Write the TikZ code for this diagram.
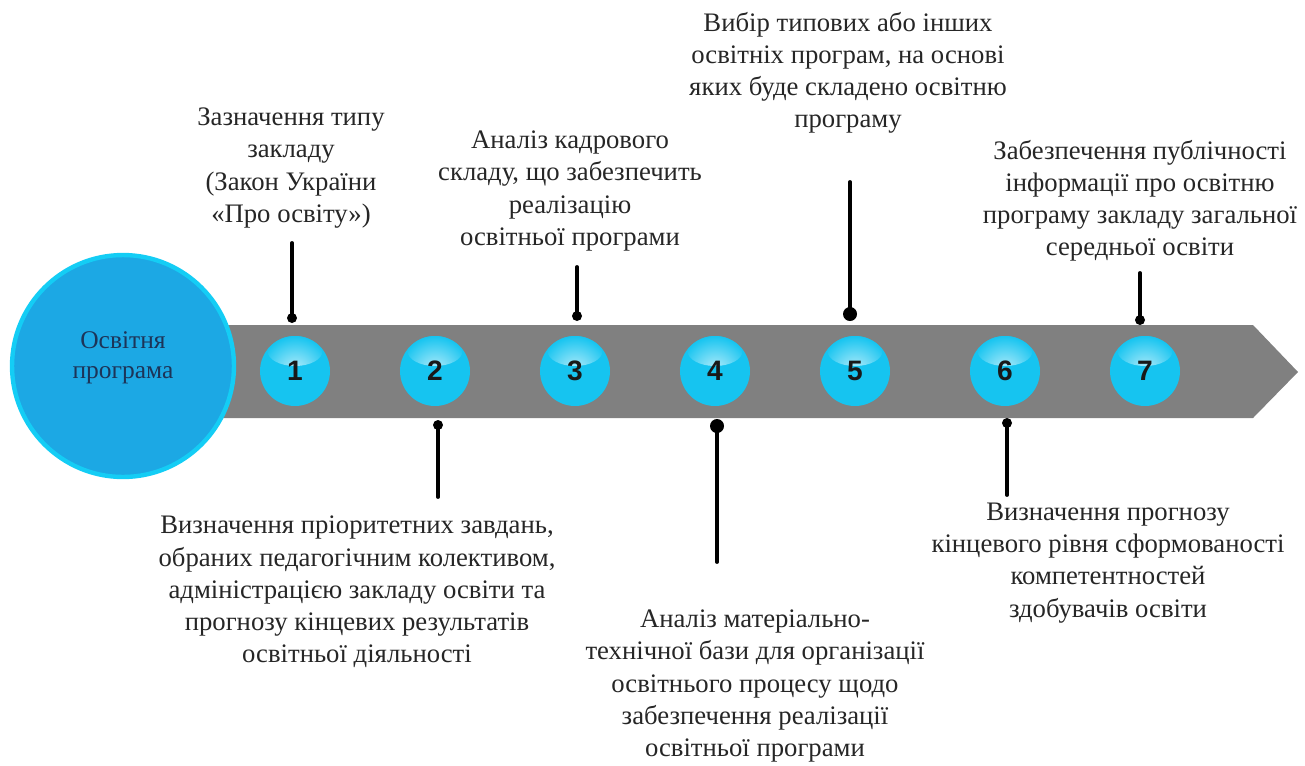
\documentclass[tikz,border=0pt]{standalone}
\usepackage{fontspec}
\setmainfont{Liberation Serif}
\newfontfamily\numfont{Liberation Sans}
\definecolor{bandgray}{RGB}{128,128,128}
\definecolor{bigblue}{RGB}{28,168,228}
\definecolor{bigrim}{RGB}{20,205,245}
\definecolor{ballcyan}{RGB}{22,196,240}
\definecolor{navytext}{RGB}{28,52,88}
\definecolor{notegray}{RGB}{38,38,38}
\tikzset{
	ball/.style={circle, minimum size=1.4cm, inner sep=0pt, fill=ballcyan,
		font=\numfont\bfseries\fontsize{16}{16}\selectfont, text=black!90,
		path picture={\shade[inner color=white!70!ballcyan, outer color=ballcyan]
			([yshift=-0.3cm]path picture bounding box.north) ellipse (0.55cm and 0.3cm);}},
	note/.style={align=center, text=notegray, font=\fontsize{15.2}{18.3}\selectfont},
	pin/.style={line width=2.2pt, black},
}
\begin{document}
\begin{tikzpicture}[x=0.02cm, y=-0.02cm, line join=round, line cap=round]
	
	\useasboundingbox (0,0) rectangle (1305,765);
	% band with arrow point
	\fill[bandgray] (215,325) -- (1253,325) -- (1298,372) -- (1253,418) -- (215,418) -- cycle;
	\node[circle, minimum size=4.44cm, inner sep=0pt, fill=bigblue, draw=bigrim, line width=2.5pt,
		label={[align=center, text=navytext, font=\fontsize{14.5}{17}\selectfont, yshift=0.16cm]center:Освітня\\програма}] (prog) at (123,366) {};
	
	\foreach \i/\x in {1/295,2/435,3/575,4/715,5/855,6/1005,7/1145}
		\node[ball] (b\i) at (\x,371) {\i};
	
	% texts above
	\node[note] (t1) at (291,168) {Зазначення типу\\закладу\\(Закон України\\«Про освіту»)};
	\node[note] (t3) at (570,191) {Аналіз кадрового\\складу, що забезпечить\\реалізацію\\освітньої програми};
	\node[note] (t5) at (848,73) {Вибір типових або інших\\освітніх програм, на основі\\яких буде складено освітню\\програму};
	\node[note] (t7) at (1140,201) {Забезпечення публічності\\інформації про освітню\\програму закладу загальної\\середньої освіти};
	% texts below
	\node[note] (t2) at (357,592) {Визначення пріоритетних завдань,\\обраних педагогічним колективом,\\адміністрацією закладу освіти та\\прогнозу кінцевих результатів\\освітньої діяльності};
	\node[note] (t4) at (755,686) {Аналіз матеріально-\\технічної бази для організації\\освітнього процесу щодо\\забезпечення реалізації\\освітньої програми};
	\node[note] (t6) at (1108,563) {Визначення прогнозу\\кінцевого рівня сформованості\\компетентностей\\здобувачів освіти};
	
	% pins
	\coordinate (q1) at (292,243); \coordinate (p1) at (292,318);
	\coordinate (q2) at (438,497); \coordinate (p2) at (438,425);
	\coordinate (q3) at (577,267); \coordinate (p3) at (577,316);
	\coordinate (q4) at (717,562); \coordinate (p4) at (717,426);
	\coordinate (q5) at (850,182); \coordinate (p5) at (850,314);
	\coordinate (q6) at (1007,495); \coordinate (p6) at (1007,423);
	\coordinate (q7) at (1140,273); \coordinate (p7) at (1140,320);
	\foreach \i in {1,2,3,6,7}
		\draw[pin] (q\i) -- (p\i) (p\i) node[circle, fill=black, inner sep=0pt, minimum size=0.2cm] {};
	\foreach \i in {4,5}
		\draw[pin] (q\i) -- (p\i) (p\i) node[circle, fill=black, inner sep=0pt, minimum size=0.28cm] {};
\end{tikzpicture}
\end{document}
